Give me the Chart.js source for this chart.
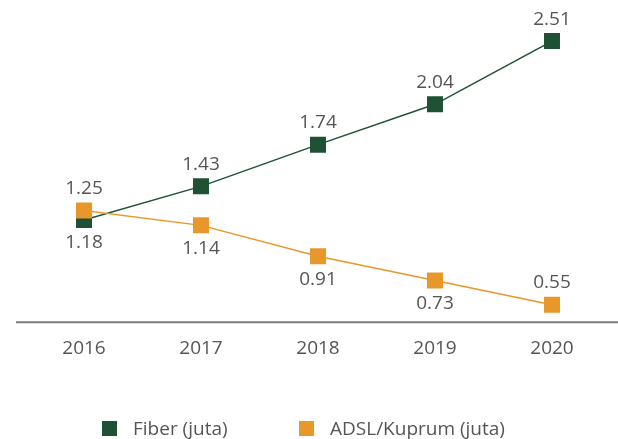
<!DOCTYPE html>
<html>
<head>
<meta charset="utf-8">
<script src="https://cdn.jsdelivr.net/npm/chart.js@4"></script>
<style>
  html, body { margin: 0; padding: 0; background: #fff; }
  #wrap { position: relative; width: 618px; height: 439px; }
  #legend { position: absolute; left: 0; top: 420px; width: 618px; height: 18px;
            font: 19px "Open Sans"; color: #555555; }
  .item { position: absolute; top: 0; height: 18px; line-height: 18px; white-space: nowrap; }
  .box { position: absolute; top: 1px; left: 0; width: 15px; height: 15px; }
  .item span { position: absolute; left: 31px; top: -1px; }
</style>
</head>
<body>
<div id="wrap">
  <canvas id="chart"></canvas>
  <div id="legend"></div>
</div>
<script>
const years = ['2016', '2017', '2018', '2019', '2020'];
const fiber = [1.18, 1.43, 1.74, 2.04, 2.51];
const adsl = [1.25, 1.14, 0.91, 0.73, 0.55];

// where each value label sits relative to its marker
const fiberLabelSide = ['below', 'above', 'above', 'above', 'above'];
const adslLabelSide = ['above', 'below', 'below', 'below', 'above'];

const green = '#1f5235';
const orange = '#e8972a';
const textGrey = '#555555';

const valueLabels = {
  id: 'valueLabels',
  afterDatasetsDraw(chart) {
    const ctx = chart.ctx;
    ctx.save();
    ctx.font = '19px "Open Sans"';
    ctx.fillStyle = textGrey;
    ctx.textAlign = 'center';
    ctx.textBaseline = 'middle';
    chart.data.datasets.forEach((ds, i) => {
      const meta = chart.getDatasetMeta(i);
      meta.data.forEach((pt, j) => {
        const dy = ds.labelSide[j] === 'above' ? -22 : 23;
        ctx.fillText(ds.data[j].toFixed(2), pt.x, pt.y + dy);
      });
    });
    ctx.restore();
  }
};

const baseLine = {
  id: 'baseLine',
  beforeDatasetsDraw(chart) {
    const ctx = chart.ctx;
    const y = chart.chartArea.bottom;
    ctx.save();
    ctx.strokeStyle = '#7d7d7d';
    ctx.lineWidth = 2;
    ctx.beginPath();
    ctx.moveTo(16, y);
    ctx.lineTo(chart.width, y);
    ctx.stroke();
    ctx.restore();
  }
};

const chart = new Chart(document.getElementById('chart'), {
  type: 'line',
  data: {
    labels: years,
    datasets: [{
      label: 'Fiber (juta)',
      data: fiber,
      labelSide: fiberLabelSide,
      borderColor: green,
      backgroundColor: green,
      borderWidth: 1.5,
      pointStyle: 'rect',
      pointRadius: 11.3,
      pointBorderWidth: 0,
      order: 1
    }, {
      label: 'ADSL/Kuprum (juta)',
      data: adsl,
      labelSide: adslLabelSide,
      borderColor: orange,
      backgroundColor: orange,
      borderWidth: 1.5,
      pointStyle: 'rect',
      pointRadius: 11.3,
      pointBorderWidth: 0,
      order: 0
    }]
  },
  options: {
    responsive: true,
    maintainAspectRatio: false,
    animation: false,
    layout: {
      autoPadding: false,
      padding: { top: 29, left: 25.5, right: 7.5, bottom: 72 }
    },
    scales: {
      x: {
        offset: true,
        grid: { display: false },
        border: { display: false },
        ticks: {
          color: textGrey,
          padding: 7,
          font: { family: 'Open Sans', size: 19 }
        }
      },
      y: {
        display: false,
        min: 0.42,
        max: 2.6
      }
    },
    plugins: {
      legend: { display: false },
      tooltip: { enabled: false }
    }
  },
  plugins: [valueLabels, baseLine]
});

// legend below the plot, built from the datasets
const legendLeft = [102, 299];
const legendEl = document.getElementById('legend');
chart.data.datasets.forEach((ds, i) => {
  const item = document.createElement('div');
  item.className = 'item';
  item.style.left = legendLeft[i] + 'px';
  const box = document.createElement('div');
  box.className = 'box';
  box.style.background = ds.backgroundColor;
  const txt = document.createElement('span');
  txt.textContent = ds.label;
  item.appendChild(box);
  item.appendChild(txt);
  legendEl.appendChild(item);
});
</script>
</body>
</html>
